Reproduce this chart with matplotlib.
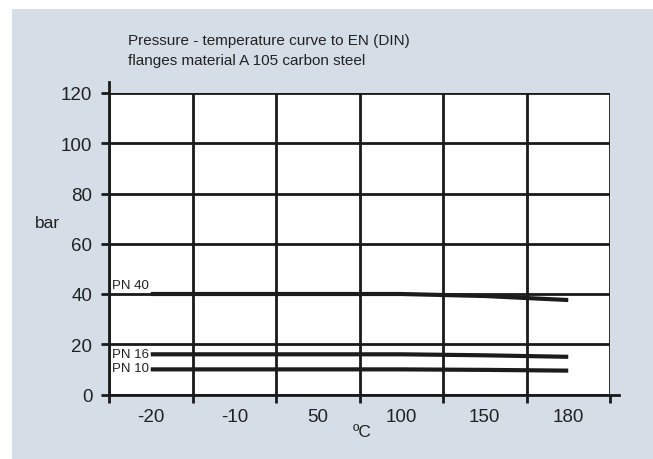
import matplotlib
matplotlib.use("Agg")
import matplotlib.pyplot as plt
from matplotlib.patches import Rectangle

plt.rcParams['font.family'] = ['Liberation Sans', 'DejaVu Sans']

temps = ['-20', '-10', '50', '100', '150', '180']
pn40 = [40, 40, 40, 40, 39.2, 37.6]
pn16 = [16, 16, 16, 16, 15.6, 15.0]
pn10 = [10, 10, 10, 10, 9.8, 9.5]
yticks = [0, 20, 40, 60, 80, 100, 120]
title_lines = ['Pressure - temperature curve to EN (DIN)',
               'flanges material A 105 carbon steel']

W, H = 653, 460
fig = plt.figure(figsize=(W / 100, H / 100), dpi=100, facecolor='white')
fig.patches.append(Rectangle((12 / W, 0), 1 - 12 / W, 1 - 10 / H,
                             transform=fig.transFigure, facecolor='#d5dee6',
                             edgecolor='none', zorder=-10))

ax = fig.add_axes([109 / W, 1 - 395.5 / H, (610 - 109) / W, (395.5 - 94) / H])
ax.set_zorder(1)
ax.set_facecolor('white')
ax.set_xlim(-0.5, len(temps) - 0.5)
ax.set_ylim(0, 120)
for s in ax.spines.values():
    s.set_visible(False)

gc = '#1a1a1a'
xs = list(range(len(temps)))
for y in yticks:
    ax.axhline(y, color=gc, lw=2, zorder=2)
for b in [i - 0.5 for i in range(len(temps) + 1)]:
    ax.axvline(b, color=gc, lw=2, zorder=2)
# extended axis lines
ax.plot([-0.5, -0.5], [0, 124.3], color=gc, lw=2, clip_on=False, zorder=2)
ax.plot([-0.5, 5.61], [0, 0], color=gc, lw=2, clip_on=False, zorder=2)

lc = '#1c1c1c'
for series in (pn40, pn16, pn10):
    ax.plot(xs, series, color=lc, lw=3, solid_capstyle='butt', zorder=3)

ax.text(-0.46, 41.2, 'PN 40', fontsize=9.5, color='#222222', va='bottom', ha='left')
ax.text(-0.46, 16.05, 'PN 16', fontsize=9.5, color='#222222', va='center', ha='left')
ax.text(-0.46, 10.4, 'PN 10', fontsize=9.5, color='#222222', va='center', ha='left')

ax.set_yticks(yticks)
ax.set_yticklabels([str(v) for v in yticks], fontsize=13.5, color='#222222')
ax.tick_params(axis='y', direction='out', length=6, width=2, color=gc, pad=6)
ax.set_xticks(xs)
ax.set_xticklabels(temps, fontsize=13.5, color='#222222')
ax.tick_params(axis='x', which='major', length=0, pad=10)
ax.set_xticks([i - 0.5 for i in range(len(temps) + 1)], minor=True)
ax.tick_params(axis='x', which='minor', direction='out', length=6, width=2, color=gc)

fig.text(35 / W, 1 - 228 / H, 'bar', fontsize=12.5, color='#222222', va='baseline', ha='left')
fig.text(353 / W, 1 - 437 / H, 'ºC', fontsize=12.5, color='#222222', va='baseline', ha='left')

fig.text(128 / W, 1 - 45 / H, title_lines[0], fontsize=11, color='#222222', va='baseline', ha='left')
fig.text(128 / W, 1 - 65 / H, title_lines[1], fontsize=11, color='#222222', va='baseline', ha='left')

fig.savefig('out.png', dpi=100, facecolor='white')
